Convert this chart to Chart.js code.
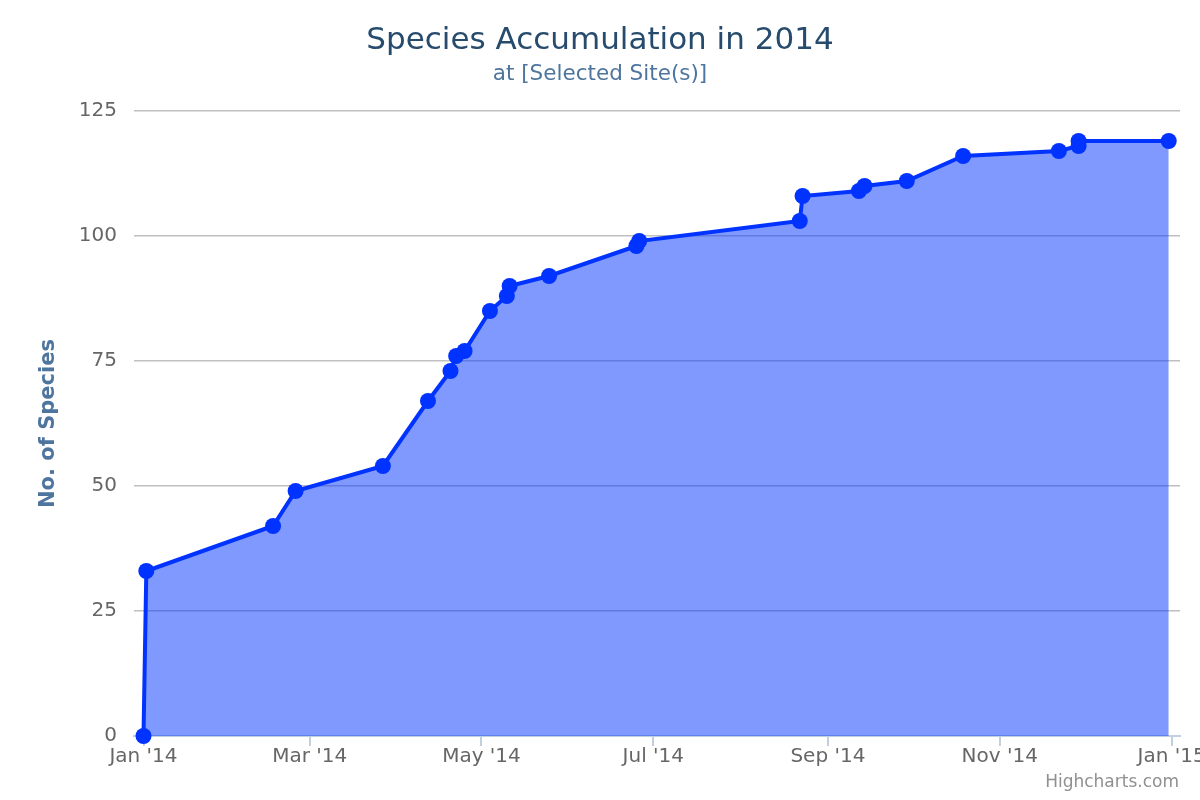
<!DOCTYPE html>
<html>
<head>
<meta charset="utf-8">
<script src="https://cdn.jsdelivr.net/npm/chart.js@4/dist/chart.umd.min.js"></script>
<style>
  html, body { margin: 0; padding: 0; background: #ffffff; }
  #wrap { width: 1200px; height: 800px; }
</style>
</head>
<body>
<div id="wrap"><canvas id="c" width="1200" height="800"></canvas></div>
<script>
// ---- data ----
const sampleDates = ['2014-01-01','2014-01-02','2014-02-16','2014-02-24','2014-03-27',
  '2014-04-12','2014-04-20','2014-04-22','2014-04-25','2014-05-04','2014-05-10',
  '2014-05-11','2014-05-25','2014-06-25','2014-06-26','2014-08-22','2014-08-23',
  '2014-09-12','2014-09-14','2014-09-29','2014-10-19','2014-11-22','2014-11-29',
  '2014-11-29','2014-12-31'];
const speciesCounts = [0,33,42,49,54,67,73,76,77,85,88,90,92,98,99,103,108,109,110,111,116,117,118,119,119];
const tickDates = ['2014-01-01','2014-03-01','2014-05-01','2014-07-01','2014-09-01','2014-11-01','2015-01-01'];
const tickLabels = ["Jan '14","Mar '14","May '14","Jul '14","Sep '14","Nov '14","Jan '15"];
const yTicks = [0,25,50,75,100,125];

const FONT = '"DejaVu Sans", Verdana, sans-serif';
const origin = Date.UTC(2014,0,1);
function dayOf(s) {
  const p = s.split('-').map(Number);
  return (Date.UTC(p[0], p[1]-1, p[2]) - origin) / 86400000;
}
const points = sampleDates.map((d, i) => ({ x: dayOf(d), y: speciesCounts[i] }));
const tickDays = tickDates.map(dayOf);

const creditsPlugin = {
  id: 'credits',
  afterDraw(chart) {
    const ctx = chart.ctx;
    ctx.save();
    ctx.font = '17px ' + FONT;
    ctx.fillStyle = '#909090';
    ctx.textAlign = 'right';
    ctx.textBaseline = 'middle';
    ctx.fillText('Highcharts.com', 1179, 783);
    ctx.restore();
  }
};

new Chart(document.getElementById('c'), {
  type: 'line',
  data: {
    datasets: [{
      label: 'Species',
      data: points,
      borderColor: '#0033ff',
      backgroundColor: 'rgba(0,51,255,0.5)',
      borderWidth: 4,
      fill: 'origin',
      tension: 0,
      clip: false,
      pointRadius: 8,
      pointBackgroundColor: '#0033ff',
      pointBorderWidth: 0,
      pointHoverRadius: 8
    }]
  },
  options: {
    responsive: false,
    animation: false,
    devicePixelRatio: 1,
    layout: { padding: 0 },
    plugins: {
      legend: { display: false },
      tooltip: { enabled: false },
      title: {
        display: true,
        text: 'Species Accumulation in 2014',
        color: '#274b6d',
        font: { family: FONT, size: 31, weight: 'normal', lineHeight: 1.2 },
        padding: { top: 22.4, bottom: 0 }
      },
      subtitle: {
        display: true,
        text: 'at [Selected Site(s)]',
        color: '#4d759e',
        font: { family: FONT, size: 21.5, weight: 'normal', lineHeight: 1.2 },
        padding: { top: 1.5, bottom: 24.1 }
      }
    },
    scales: {
      x: {
        type: 'linear',
        min: -3.373,
        max: 368.0,
        afterBuildTicks(scale) { scale.ticks = tickDays.map(v => ({ value: v })); },
        afterFit(scale) { scale.height = 64; scale.paddingLeft = 0; scale.paddingRight = 20; },
        grid: { drawOnChartArea: false, drawTicks: true, tickLength: 10, color: '#c0d0e0', lineWidth: 2 },
        border: { display: true, color: '#c0d0e0', width: 2 },
        ticks: {
          autoSkip: false, maxRotation: 0, minRotation: 0, padding: -1,
          color: '#666666',
          font: { family: FONT, size: 20, lineHeight: 1.2 },
          callback(value) {
            const i = tickDays.indexOf(value);
            return i >= 0 ? tickLabels[i] : '';
          }
        }
      },
      y: {
        min: 0,
        max: 125,
        afterBuildTicks(scale) { scale.ticks = yTicks.map(v => ({ value: v })); },
        afterFit(scale) { scale.width = 134; scale.paddingTop = 0; scale.paddingBottom = 0; },
        grid: { drawTicks: false, color: '#c0c0c0', lineWidth: 1.5 },
        border: { display: false },
        ticks: {
          padding: 17,
          color: '#666666',
          font: { family: FONT, size: 20, lineHeight: 1.2 }
        },
        title: {
          display: true,
          text: 'No. of Species',
          color: '#4d759e',
          font: { family: FONT, size: 21, weight: 'bold', lineHeight: 1.2 },
          padding: { top: 36, bottom: 0 }
        }
      }
    }
  },
  plugins: [creditsPlugin]
});
</script>
</body>
</html>
